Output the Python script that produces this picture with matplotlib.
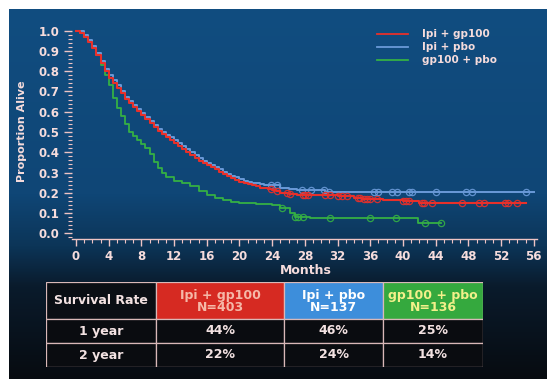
import numpy as np
import matplotlib
matplotlib.use("Agg")
import matplotlib.pyplot as plt
from matplotlib.patches import Rectangle
from matplotlib.lines import Line2D
from matplotlib.colors import LinearSegmentedColormap
from matplotlib.ticker import MultipleLocator

plt.rcParams['font.family'] = ['DejaVu Sans']

# ---------------- data ----------------
series_names = ["Ipi + gp100", "Ipi + pbo", "gp100 + pbo"]

red_t = [0, 0.5, 1, 1.5, 2, 2.5, 3, 3.5, 4, 4.5, 5, 5.5, 6, 6.5, 7, 7.5, 8, 8.5, 9, 9.5,
         10, 10.5, 11, 11.5, 12, 12.5, 13, 13.5, 14, 14.5, 15, 15.5, 16, 16.5, 17, 17.5, 18,
         18.5, 19, 19.5, 20, 20.5, 21, 21.5, 22, 22.5, 23, 23.5, 24, 24.5, 25, 26, 27, 29,
         32, 34, 35, 37.5, 40, 42, 55]
red_s = [1.0, 0.99, 0.97, 0.945, 0.915, 0.88, 0.84, 0.80, 0.765, 0.74, 0.715, 0.69, 0.665,
         0.645, 0.625, 0.605, 0.585, 0.565, 0.545, 0.525, 0.505, 0.49, 0.475, 0.46, 0.445,
         0.43, 0.415, 0.40, 0.385, 0.37, 0.355, 0.345, 0.335, 0.325, 0.315, 0.305, 0.295,
         0.285, 0.275, 0.265, 0.255, 0.25, 0.245, 0.238, 0.232, 0.226, 0.222, 0.218, 0.214,
         0.208, 0.200, 0.195, 0.19, 0.19, 0.185, 0.175, 0.17, 0.165, 0.16, 0.15, 0.15]
red_cens = [23.9, 24.6, 25.8, 26.2, 27.8, 28.0, 28.4, 30.5, 31.1, 32.1, 32.6, 33.2, 34.5,
            34.8, 35.2, 35.6, 36.0, 36.8, 40.0, 40.4, 40.7, 42.3, 42.6, 43.5, 47.2, 49.3,
            49.9, 52.5, 52.9, 54.0]

blue_t = [0, 0.5, 1, 1.5, 2, 2.5, 3, 3.5, 4, 4.5, 5, 5.5, 6, 6.5, 7, 7.5, 8, 8.5, 9, 9.5,
          10, 10.5, 11, 11.5, 12, 12.5, 13, 13.5, 14, 14.5, 15, 15.5, 16, 16.5, 17, 17.5, 18,
          18.5, 19, 19.5, 20, 20.5, 21, 21.5, 22, 22.5, 23, 23.5, 24, 25, 26, 27, 30.5, 56]
blue_s = [1.0, 1.0, 0.98, 0.955, 0.925, 0.89, 0.85, 0.81, 0.78, 0.755, 0.73, 0.70, 0.675,
          0.655, 0.635, 0.615, 0.595, 0.575, 0.555, 0.535, 0.515, 0.50, 0.487, 0.473, 0.46,
          0.445, 0.43, 0.415, 0.40, 0.385, 0.37, 0.358, 0.346, 0.335, 0.325, 0.315, 0.305,
          0.295, 0.285, 0.276, 0.267, 0.26, 0.255, 0.25, 0.246, 0.243, 0.24, 0.238, 0.236,
          0.225, 0.218, 0.212, 0.205, 0.205]
blue_cens = [23.9, 24.6, 27.6, 28.8, 30.3, 30.9, 36.4, 37.0, 38.6, 39.3, 40.7, 41.1, 44.1,
             47.7, 48.4, 55.1]

green_t = [0, 0.5, 1, 1.5, 2, 2.5, 3, 3.5, 4, 4.5, 5, 5.5, 6, 6.5, 7, 7.5, 8, 8.5, 9, 9.5,
           10, 10.5, 11, 12, 13, 14, 15, 16, 17, 18, 19, 20, 22, 24, 25, 26.2, 26.8, 28.6,
           41.9, 44.7]
green_s = [1.0, 0.99, 0.97, 0.95, 0.92, 0.88, 0.83, 0.78, 0.73, 0.67, 0.62, 0.58, 0.54,
           0.50, 0.48, 0.46, 0.44, 0.42, 0.39, 0.35, 0.32, 0.30, 0.28, 0.26, 0.25, 0.235,
           0.21, 0.19, 0.175, 0.165, 0.155, 0.15, 0.145, 0.14, 0.125, 0.10, 0.08, 0.074,
           0.05, 0.05]
green_cens = [25.2, 26.8, 27.2, 27.8, 31.1, 36.0, 39.2, 42.7, 44.6]

table_header = ["Survival Rate", "Ipi + gp100\nN=403", "Ipi + pbo\nN=137", "gp100 + pbo\nN=136"]
table_rows = ["1 year", "2 year"]
table_values = [["44%", "46%", "25%"],
                ["22%", "24%", "14%"]]

x_ticks = list(range(0, 57, 4))
y_ticks = [0.0, 0.1, 0.2, 0.3, 0.4, 0.5, 0.6, 0.7, 0.8, 0.9, 1.0]

# ---------------- style ----------------
W, H = 547, 379
fig = plt.figure(figsize=(W / 100, H / 100), dpi=100)
fig.patch.set_facecolor("white")

def fx(px):
    return px / W

def fy(py):
    return 1 - py / H

# background panel with vertical gradient
bg = fig.add_axes([fx(9), 0, fx(W - 9), 1 - 9 / H])
bg.set_axis_off()
cmap = LinearSegmentedColormap.from_list(
    "bg", [(0.0, "#114d80"), (0.5, "#0f4676"), (0.64, "#0c3558"),
           (0.75, "#0a1b2c"), (1.0, "#070b10")])
grad = np.linspace(0, 1, 256).reshape(-1, 1)
bg.imshow(grad, aspect="auto", cmap=cmap, extent=[0, 1, 0, 1], origin="upper")
bg.set_xlim(0, 1)
bg.set_ylim(0, 1)

axis_col = "#efc4c4"
label_col = "#f6dcdc"

ax = fig.add_axes([fx(72), fy(239), fx(537 - 72), (239 - 28) / H])
ax.patch.set_alpha(0)
ax.set_xlim(-0.49, 56.4)
ax.set_ylim(-0.028, 1.013)

colors = {"red": "#e8302a", "blue": "#6a9ad8", "green": "#35b044"}

def km(t, s, cens, col, z, lw):
    ax.step(t, s, where="post", color=col, lw=lw, zorder=z)
    cs = [s[np.searchsorted(t, c, side="right") - 1] for c in cens]
    ax.plot(cens, cs, ls="none", marker="o", ms=4.5, mfc="none", mec=col, mew=0.9,
            zorder=z, alpha=0.9)

km(blue_t, blue_s, blue_cens, colors["blue"], 3, 1.4)
km(red_t, red_s, red_cens, colors["red"], 4, 1.5)
km(green_t, green_s, green_cens, colors["green"], 2, 1.3)

for sp in ["top", "right", "left"]:
    ax.spines[sp].set_visible(False)
ax.spines["bottom"].set_color(axis_col)
ax.spines["bottom"].set_linewidth(1.0)

ax.set_xticks(x_ticks)
ax.set_yticks(y_ticks)
ax.set_yticklabels([f"{v:.1f}" for v in y_ticks])
ax.xaxis.set_minor_locator(MultipleLocator(1))
ax.yaxis.set_minor_locator(MultipleLocator(0.02))
ax.tick_params(axis="x", which="major", direction="out", length=5, width=1, color=axis_col,
               labelcolor=label_col, labelsize=8.5, pad=3)
ax.tick_params(axis="x", which="minor", direction="out", length=3, width=0.8, color=axis_col)
ax.tick_params(axis="y", which="major", direction="out", length=6, width=1, color=axis_col,
               labelcolor=label_col, labelsize=8.5, pad=3)
ax.tick_params(axis="y", which="minor", direction="out", length=3, width=0.8, color=axis_col)
for lab in ax.get_xticklabels() + ax.get_yticklabels():
    lab.set_fontweight("bold")

fig.text(fx(306), fy(271), "Months", color=label_col, fontsize=9, fontweight="bold",
         ha="center", va="center")
fig.text(fx(22), fy(131), "Proportion Alive", color=label_col, fontsize=8,
         fontweight="bold", rotation=90, ha="center", va="center")

# legend (drawn in figure pixel positions)
leg_cols = [colors["red"], colors["blue"], colors["green"]]
leg_y = [34, 47, 60]
for name, col, yy in zip(series_names, leg_cols, leg_y):
    fig.add_artist(Line2D([fx(377), fx(408)], [fy(yy), fy(yy)], color=col, lw=1.3))
    fig.text(fx(422), fy(yy), name, color=label_col, fontsize=7.5, fontweight="bold",
             ha="left", va="center")

# ---------------- table ----------------
tx = fig.add_axes([fx(46), fy(367), fx(483 - 46), (367 - 282) / H])
tx.set_axis_off()
tx.set_xlim(46, 483)
tx.set_ylim(367, 282)
xe = [46, 156, 284, 383, 483]
ye = [282, 319, 343, 367]
head_bg = ["#0a0e14", "#d62a22", "#3d8edb", "#35a93e"]
head_fc = ["#f3e2e2", "#f5b8a8", "#ffffff", "#f3f08a"]
line_col = "#d9b8b8"
for j in range(4):
    tx.add_patch(Rectangle((xe[j], ye[0]), xe[j + 1] - xe[j], ye[1] - ye[0],
                           facecolor=head_bg[j], edgecolor=line_col, lw=0.9))
    if j == 0:
        tx.text(xe[0] + 8, (ye[0] + ye[1]) / 2, table_header[0], color=head_fc[0],
                fontsize=9, fontweight="bold", ha="left", va="center")
    else:
        tx.text((xe[j] + xe[j + 1]) / 2, (ye[0] + ye[1]) / 2 + 1, table_header[j],
                color=head_fc[j], fontsize=9, fontweight="bold", ha="center",
                va="center", linespacing=0.95)
for i in range(2):
    for j in range(4):
        tx.add_patch(Rectangle((xe[j], ye[i + 1]), xe[j + 1] - xe[j], ye[i + 2] - ye[i + 1],
                               facecolor="#0a0c10", edgecolor=line_col, lw=0.9))
        txt = table_rows[i] if j == 0 else table_values[i][j - 1]
        tx.text((xe[j] + xe[j + 1]) / 2, (ye[i + 1] + ye[i + 2]) / 2, txt,
                color="#f3e2e2", fontsize=9, fontweight="bold", ha="center", va="center")

fig.savefig("out.png", dpi=100, facecolor=fig.get_facecolor())
